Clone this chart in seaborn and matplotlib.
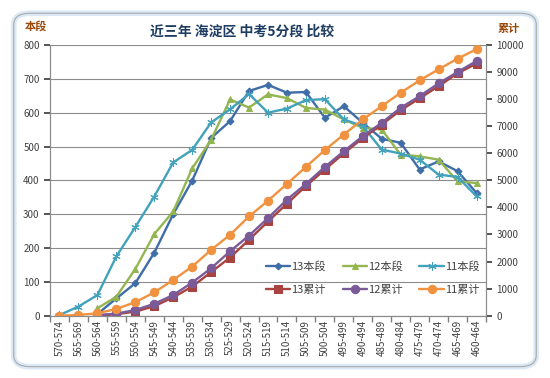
import numpy as np
import pandas as pd
import matplotlib.pyplot as plt
import seaborn as sns
from matplotlib.patches import FancyBboxPatch

# --- data ---
bands = ['570-574', '565-569', '560-564', '555-559', '550-554', '545-549', '540-544',
         '535-539', '530-534', '525-529', '520-524', '515-519', '510-514', '505-509',
         '500-504', '495-499', '490-494', '485-489', '480-484', '475-479', '470-474',
         '465-469', '460-464']
nan = np.nan
seg13 = [nan, nan, 5, 51, 96, 186, 300, 399, 525, 575, 664, 682, 659, 661,
         585, 619, 570, 523, 511, 432, 456, 427, 363]
seg12 = [nan, nan, 22, 56, 138, 241, 308, 435, 520, 639, 615, 654, 643, 614,
         609, 580, 555, 550, 476, 471, 461, 397, 392]
seg11 = [2, 27, 61, 175, 262, 352, 453, 490, 571, 610, 655, 600, 612, 637,
         640, 580, 560, 491, 479, 461, 417, 410, 353]
cum13 = [nan, nan, 5, 56, 150, 350, 680, 1075, 1610, 2150, 2804, 3480, 4137, 4790,
         5396, 6000, 6560, 7060, 7590, 8030, 8480, 8952, 9311]
cum12 = [nan, nan, 22, 77, 210, 440, 765, 1222, 1753, 2380, 2960, 3605, 4285, 4867,
         5496, 6074, 6630, 7126, 7681, 8111, 8581, 9000, 9407]
cum11 = [0, 27, 89, 250, 500, 860, 1320, 1815, 2430, 2990, 3667, 4248, 4867, 5496,
         6120, 6693, 7248, 7741, 8237, 8693, 9100, 9496, 9841]

left_ticks = list(range(0, 801, 100))
right_ticks = list(range(0, 10001, 1000))

sns.set_theme(style='white')
plt.rcParams['font.family'] = ['Noto Sans CJK SC', 'DejaVu Sans']
plt.rcParams['axes.unicode_minus'] = False

x = np.arange(len(bands))
fig = plt.figure(figsize=(5.5, 3.78), dpi=100)
fig.patch.set_facecolor('white')

# rounded frame with soft blue glow
for col, lw in [('#dbe8f5', 4), ('#a9a9a9', 0.8)]:
    fig.patches.append(FancyBboxPatch((0.025, 0.03), 0.95, 0.935,
                                      boxstyle='round,pad=0,rounding_size=0.03',
                                      transform=fig.transFigure, fill=False,
                                      edgecolor=col, linewidth=lw, zorder=0))

ax = fig.add_axes([0.0909, 0.1648, 0.7927, 0.7162])
ax2 = ax.twinx()

c13, c12, c11 = '#3e6da8', '#93b651', '#43a2bb'
r13, p12, o11 = '#a8433f', '#7b5a98', '#f0923f'
star = (6, 2, 0)

seg = [(seg13, c13, 'D', 3.5, '13本段'), (seg12, c12, '^', 4.5, '12本段'),
       (seg11, c11, star, 6, '11本段')]
cum = [(cum13, r13, 's', 6, '13累计'), (cum12, p12, 'o', 6, '12累计'),
       (cum11, o11, 'o', 6, '11累计')]

handles = {}
for vals, col, mk, ms, lab in seg:
    sns.lineplot(x=x, y=vals, ax=ax, color=col, marker=mk, markersize=ms,
                 markeredgecolor=col, linewidth=1.7, label=lab, legend=False)
    handles[lab] = ax.lines[-1]
for vals, col, mk, ms, lab in cum:
    sns.lineplot(x=x, y=vals, ax=ax2, color=col, marker=mk, markersize=ms,
                 markeredgecolor=col, linewidth=1.7, label=lab, legend=False)
    handles[lab] = ax2.lines[-1]

ax.set_xlim(-0.5, len(bands) - 0.5)
ax.set_ylim(0, 800)
ax2.set_ylim(0, 10000)
ax.set_yticks(left_ticks)
ax2.set_yticks(right_ticks)
ax.set_xticks(x)
ax.set_xticklabels(bands, rotation=90, fontsize=7, color='#404040')
ax.tick_params(axis='y', labelsize=7, colors='#404040', length=4, direction='out', left=True)
ax2.tick_params(axis='y', labelsize=7, colors='#404040', length=4, direction='out', right=True)
ax.tick_params(axis='x', length=0, pad=3)
ax.set_xticks(np.arange(-0.5, len(bands), 1), minor=True)
ax.tick_params(axis='x', which='minor', length=4, direction='out', bottom=True, color='#808080')
ax.grid(axis='y', color='#8c8c8c', linewidth=0.8)
ax.set_axisbelow(True)
for a in (ax, ax2):
    a.spines['top'].set_visible(False)
    for s in ['left', 'right', 'bottom']:
        a.spines[s].set_color('#8c8c8c')
        a.spines[s].set_linewidth(0.8)
ax.set_ylabel('')
ax2.set_ylabel('')

order = ['13本段', '13累计', '12本段', '12累计', '11本段', '11累计']
ax2.legend([handles[k] for k in order], order, loc='center', bbox_to_anchor=(0.74, 0.14),
           ncol=3, frameon=False, fontsize=8, handlelength=2.2, columnspacing=1.5,
           handletextpad=0.1, labelspacing=1.2, labelcolor='#404040')

fig.text(0.44, 0.915, '近三年 海淀区 中考5分段 比较', ha='center', va='center',
         fontsize=10, fontweight='bold', color='#1f3d63')
fig.text(0.065, 0.93, '本段', ha='center', va='center', fontsize=8,
         fontweight='bold', color='#984807')
fig.text(0.925, 0.925, '累计', ha='center', va='center', fontsize=8,
         fontweight='bold', color='#984807')

plt.savefig('out.png', dpi=100, facecolor='white')
